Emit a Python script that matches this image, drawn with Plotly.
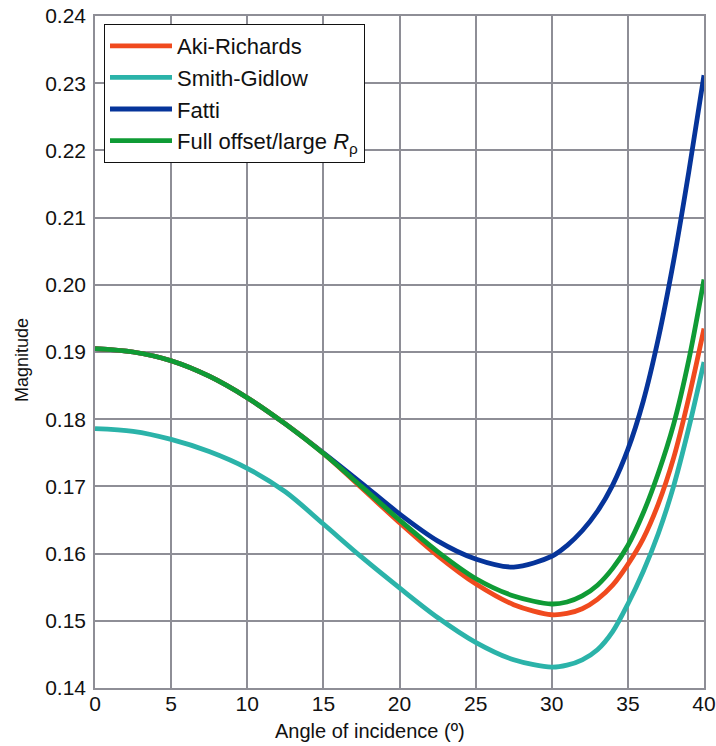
import plotly.graph_objects as go

angle = [0, 2.5, 5, 7.5, 10, 12.5, 15, 17.5, 20, 22.5, 25, 27.5, 30, 31, 32, 33, 34, 35, 36, 37, 38, 39, 40]

aki_richards = [0.1905, 0.1900, 0.1887, 0.1864, 0.1832, 0.1793, 0.1749, 0.1698, 0.1646, 0.1597, 0.1555,
                0.1524, 0.1509, 0.1511, 0.1518, 0.1532, 0.1553, 0.1584, 0.1622, 0.1674, 0.1742, 0.1832, 0.1935]
smith_gidlow = [0.1786, 0.1782, 0.1770, 0.1752, 0.1727, 0.1692, 0.1644, 0.1595, 0.1549, 0.1505, 0.1468,
                0.1442, 0.1431, 0.1434, 0.1442, 0.1457, 0.1484, 0.1525, 0.1573, 0.1630, 0.1700, 0.1787, 0.1885]
fatti = [0.1905, 0.1900, 0.1887, 0.1864, 0.1832, 0.1793, 0.1750, 0.1705, 0.1659, 0.1619, 0.1592,
         0.1580, 0.1596, 0.1612, 0.1634, 0.1663, 0.1702, 0.1755, 0.1826, 0.1920, 0.2035, 0.2168, 0.2312]
full_offset = [0.1905, 0.1900, 0.1887, 0.1864, 0.1832, 0.1793, 0.1749, 0.1700, 0.1650, 0.1603, 0.1563,
               0.1537, 0.1525, 0.1528, 0.1537, 0.1553, 0.1578, 0.1612, 0.1660, 0.1720, 0.1792, 0.1888, 0.2008]

series = [
    ("Aki-Richards", aki_richards, "#F04A1E"),
    ("Smith-Gidlow", smith_gidlow, "#2BB3A9"),
    ("Fatti", fatti, "#06349A"),
    ("Full offset/large <i>R</i><sub>ρ</sub>", full_offset, "#0F9B35"),
]

x_ticks = [0, 5, 10, 15, 20, 25, 30, 35, 40]
y_ticks = [0.14, 0.15, 0.16, 0.17, 0.18, 0.19, 0.20, 0.21, 0.22, 0.23, 0.24]

FONT = "Liberation Sans, Arial, Helvetica, sans-serif"
GRID = "#8E8E96"
TXT = "#111111"

fig = go.Figure()
# drawing order: teal, blue, red, green on top (as in the reference)
for i in [1, 2, 0, 3]:
    name, vals, col = series[i]
    fig.add_trace(go.Scatter(
        x=angle, y=vals, mode="lines", name=name,
        line=dict(color=col, width=4.8, shape="spline", smoothing=0.9),
        legendrank=i + 1,
    ))

fig.update_layout(
    width=716, height=746,
    margin=dict(l=95, r=12, t=16, b=58, autoexpand=False),
    paper_bgcolor="white", plot_bgcolor="white",
    font=dict(family=FONT, size=20, color=TXT),
    showlegend=True,
    legend=dict(
        x=(104 - 95) / 609, y=(688 - 24) / 672, xanchor="left", yanchor="top",
        bgcolor="white", bordercolor=TXT, borderwidth=1,
        font=dict(family=FONT, size=22, color=TXT),
        traceorder="normal", tracegroupgap=0, itemwidth=62,
    ),
    xaxis=dict(
        range=[0, 40], tickvals=x_ticks, ticktext=[str(t) for t in x_ticks],
        showgrid=True, gridcolor=GRID, gridwidth=1.5,
        showline=True, linecolor=GRID, linewidth=1.5, mirror=True,
        ticks="", ticklabelstandoff=-4, zeroline=False, automargin=False,
        tickfont=dict(family=FONT, size=21, color=TXT),
    ),
    yaxis=dict(
        range=[0.14, 0.24], tickvals=y_ticks, ticktext=[f"{t:.2f}" for t in y_ticks],
        showgrid=True, gridcolor=GRID, gridwidth=1.5,
        showline=True, linecolor=GRID, linewidth=1.5, mirror=True,
        ticks="", ticklabelstandoff=3, zeroline=False, automargin=False,
        tickfont=dict(family=FONT, size=21, color=TXT),
    ),
    annotations=[
        dict(text="Angle of incidence (º)", xref="paper", yref="paper",
             x=(370 - 95) / 609, y=(688 - 731) / 672, xanchor="center", yanchor="middle",
             showarrow=False, font=dict(family=FONT, size=20, color=TXT)),
        dict(text="Magnitude", xref="paper", yref="paper",
             x=(22 - 95) / 609, y=(688 - 360) / 672, xanchor="center", yanchor="middle",
             textangle=-90, showarrow=False, font=dict(family=FONT, size=18, color=TXT)),
    ],
)

fig.write_html("out.html")
